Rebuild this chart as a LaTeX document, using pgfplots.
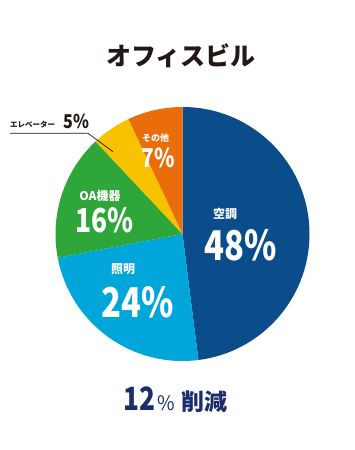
\documentclass[border=0pt]{standalone}
\usepackage{pgfplots}
\usepackage{pgfplotstable}
\pgfplotsset{compat=1.18}
\usepackage{fontspec}
\setmainfont{Noto Sans CJK JP}
\definecolor{cA}{HTML}{0B4C8A}
\definecolor{cB}{HTML}{00A6DA}
\definecolor{cC}{HTML}{2EA63A}
\definecolor{cD}{HTML}{F8C200}
\definecolor{cE}{HTML}{E96D0A}
\definecolor{navy}{HTML}{1A2D6C}
\definecolor{ink}{HTML}{231815}

\pgfplotstableread{
pct color
48 cA
24 cB
16 cC
5 cD
7 cE
}\piedata
\pgfplotstablecreatecol[create col/expr accum={\pgfmathaccuma+\thisrow{pct}}{0}]{cum}\piedata

\newcommand{\fs}[1]{\fontsize{#1}{#1}\selectfont}
\begin{document}
\begin{tikzpicture}
\begin{axis}[x=1pt,y=1pt,xmin=0,xmax=355,ymin=0,ymax=450,hide axis,clip=false,scale only axis]
\fill[white] (axis cs:0,0) rectangle (axis cs:355,450);
\pgfplotsinvokeforeach{0,...,4}{
  \pgfplotstablegetelem{#1}{pct}\of\piedata \let\p\pgfplotsretval
  \pgfplotstablegetelem{#1}{cum}\of\piedata \let\c\pgfplotsretval
  \pgfplotstablegetelem{#1}{color}\of\piedata \let\col\pgfplotsretval
  \pgfmathsetmacro{\sa}{90-3.6*(\c-\p)}
  \pgfmathsetmacro{\ea}{90-3.6*\c}
  \edef\cmd{\noexpand\fill[\col] (axis cs:182.5,216) -- ++(\sa:127pt) arc[start angle=\sa, end angle=\ea, radius=127pt] -- cycle;}
  \cmd
}
% title
\node[ink, font=\fs{25}\bfseries] at (axis cs:181,394) {オフィスビル};
% labels
\node[white, font=\fs{12}\bfseries] at (axis cs:225,236) {空調};
\node[white, font=\fs{41}\bfseries, xscale=0.8] at (axis cs:241,205) {48\%};
\node[white, font=\fs{12}\bfseries] at (axis cs:123,181) {照明};
\node[white, font=\fs{41}\bfseries, xscale=0.8] at (axis cs:137.5,148) {24\%};
\node[white, font=\fs{12}\bfseries] at (axis cs:100,254) {OA機器};
\node[white, font=\fs{33}\bfseries, xscale=0.8] at (axis cs:104.5,230) {16\%};
\node[white, font=\fs{9}\bfseries] at (axis cs:155.5,312.3) {その他};
\node[white, font=\fs{26}\bfseries, xscale=0.8] at (axis cs:158.5,292.5) {7\%};
\node[ink, font=\fs{7.5}\bfseries, anchor=west, inner sep=0pt] at (axis cs:10,325.5) {エレベーター};
\node[ink, font=\fs{19}\bfseries, xscale=0.85] at (axis cs:76.5,328.5) {5\%};
\draw[ink, line width=0.7pt] (axis cs:10,316.7) -- (axis cs:88,316.7) -- (axis cs:113,298.3);
% bottom
\node[navy, anchor=base east, inner sep=0pt, font=\fs{32}\bfseries, xscale=0.82] at (axis cs:156,39) {12};
\node[navy, anchor=base west, inner sep=0pt, font=\fs{20}, xscale=0.95] at (axis cs:157.5,39) {\%};
\node[navy, anchor=base west, inner sep=0pt, font=\fs{23}\bfseries] at (axis cs:181,39) {削減};
\end{axis}
\end{tikzpicture}
\end{document}
